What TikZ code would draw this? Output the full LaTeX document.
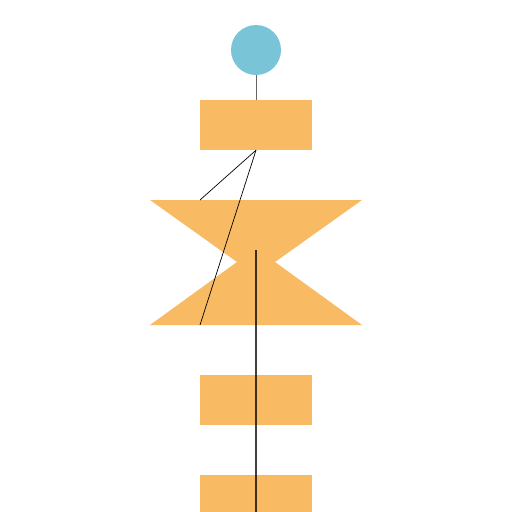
\documentclass[tikz,border=0pt]{standalone}
\usepackage{tikz}
\definecolor{boxorange}{HTML}{F8BA62}
\definecolor{topblue}{HTML}{79C4D6}

\begin{document}
\begin{tikzpicture}[x=1pt,y=-1pt,
	box/.style={rectangle,fill=boxorange,minimum width=112pt,minimum height=50pt,inner sep=0},
	link/.style={line width=0.7pt,black}]
	\useasboundingbox (0,0) rectangle (512,512);
	% nodes
	\node[circle,fill=topblue,minimum size=50pt,inner sep=0] (top) at (256,50) {};
	\node[box] (boxA) at (256,125) {};
	\node[box] (boxB) at (256,400) {};
	\node[box,minimum height=37pt] (boxC) at (256,493.5) {};
	% bow tie
	\coordinate (tl) at (150,200); \coordinate (tr) at (362,200);
	\coordinate (ml) at (237,262); \coordinate (mr) at (275,262);
	\coordinate (bl) at (150,325); \coordinate (br) at (362,325);
	\fill[boxorange] (tl) -- (tr) -- (mr) -- (br) -- (bl) -- (ml) -- cycle;
	\coordinate (in1) at (200,200);
	\coordinate (in2) at (200,325);
	\coordinate (mid) at (256,250);
	\coordinate (end) at (256,512);
	% connectors
	\draw[link,black!60] (top) -- (boxA);
	\draw[link] (boxA.south) -- (in1);
	\draw[link] (boxA.south) -- (in2);
	\draw[line width=1.6pt,black,opacity=0.75] (mid) -- (end);
\end{tikzpicture}
\end{document}
